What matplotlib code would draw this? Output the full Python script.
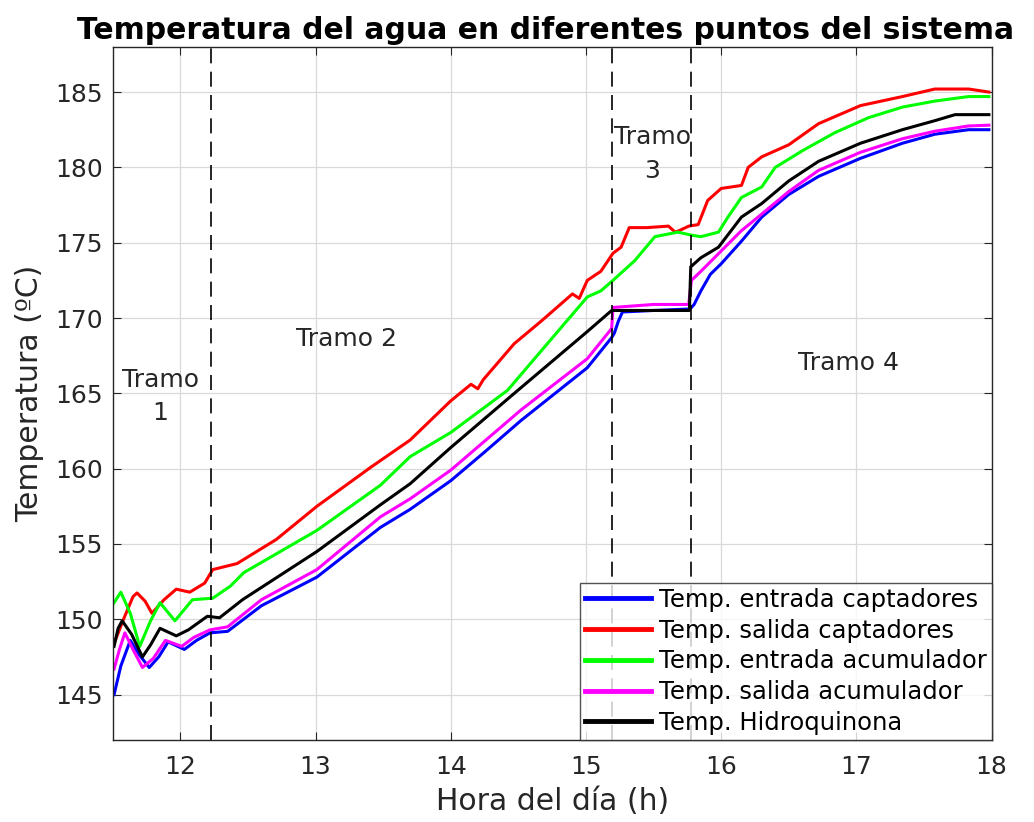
import matplotlib
matplotlib.use("Agg")
import matplotlib.pyplot as plt

# series (hour of day, temperature in ºC)
t_ent_capt = [11.51, 11.56, 11.63, 11.70, 11.77, 11.84, 11.91, 12.03, 12.12, 12.22, 12.35,
              12.60, 13.01, 13.48, 13.70, 14.00, 14.25, 14.52, 15.01, 15.19, 15.21, 15.24,
              15.27, 15.50, 15.77, 15.80, 15.85, 15.92, 16.00, 16.15, 16.30, 16.50, 16.72,
              17.03, 17.34, 17.58, 17.83, 17.98]
ent_capt = [145.0, 146.9, 148.6, 147.6, 146.8, 147.5, 148.5, 148.0, 148.6, 149.1, 149.2,
            150.9, 152.8, 156.1, 157.3, 159.2, 161.1, 163.2, 166.7, 168.7, 169.0, 169.8,
            170.4, 170.5, 170.6, 170.9, 171.8, 172.9, 173.6, 175.1, 176.7, 178.2, 179.4,
            180.6, 181.6, 182.2, 182.5, 182.5]

t_sal_capt = [11.51, 11.58, 11.65, 11.68, 11.74, 11.79, 11.88, 11.97, 12.07, 12.18, 12.24,
              12.42, 12.71, 13.01, 13.41, 13.70, 14.00, 14.15, 14.20, 14.24, 14.47, 14.67,
              14.90, 14.95, 15.01, 15.11, 15.20, 15.26, 15.32, 15.45, 15.61, 15.66, 15.69,
              15.76, 15.83, 15.90, 16.00, 16.15, 16.20, 16.30, 16.50, 16.72, 17.03, 17.34,
              17.58, 17.83, 17.98]
sal_capt = [148.4, 150.0, 151.5, 151.75, 151.2, 150.4, 151.3, 152.0, 151.8, 152.4, 153.3,
            153.7, 155.3, 157.5, 160.1, 161.9, 164.5, 165.6, 165.3, 165.9, 168.3, 169.8,
            171.6, 171.3, 172.5, 173.1, 174.3, 174.7, 176.0, 176.0, 176.1, 175.7, 175.8,
            176.1, 176.2, 177.8, 178.6, 178.8, 180.0, 180.7, 181.5, 182.9, 184.1, 184.7,
            185.2, 185.2, 185.0]

t_ent_acum = [11.51, 11.56, 11.63, 11.70, 11.78, 11.85, 11.96, 12.09, 12.24, 12.37, 12.47,
              13.01, 13.48, 13.70, 14.00, 14.42, 15.01, 15.11, 15.20, 15.36, 15.51, 15.68,
              15.78, 15.85, 15.98, 16.05, 16.15, 16.30, 16.40, 16.60, 16.84, 17.09, 17.34,
              17.58, 17.83, 17.98]
ent_acum = [151.1, 151.8, 150.4, 148.2, 149.9, 151.1, 149.9, 151.3, 151.4, 152.2, 153.1,
            155.9, 158.9, 160.8, 162.4, 165.2, 171.4, 171.8, 172.5, 173.8, 175.4, 175.7,
            175.5, 175.4, 175.7, 176.7, 178.0, 178.7, 180.0, 181.1, 182.3, 183.3, 184.0,
            184.4, 184.7, 184.7]

t_sal_acum = [11.51, 11.55, 11.59, 11.65, 11.72, 11.80, 11.89, 12.01, 12.10, 12.22, 12.35,
              12.60, 13.01, 13.48, 13.70, 14.00, 14.52, 15.01, 15.19, 15.20, 15.50, 15.76,
              15.78, 15.85, 15.95, 16.15, 16.30, 16.50, 16.72, 17.03, 17.34, 17.58, 17.83,
              17.98]
sal_acum = [146.7, 148.0, 149.1, 148.0, 146.8, 147.4, 148.6, 148.2, 148.8, 149.3, 149.5,
            151.3, 153.3, 156.8, 158.0, 159.9, 163.9, 167.3, 169.3, 170.7, 170.9, 170.9,
            172.5, 173.1, 174.0, 175.8, 176.9, 178.4, 179.8, 181.0, 181.9, 182.4, 182.75,
            182.8]

t_hidro = [11.51, 11.54, 11.57, 11.64, 11.72, 11.78, 11.85, 11.97, 12.06, 12.20, 12.29,
           12.46, 13.01, 13.48, 13.70, 14.00, 14.47, 15.01, 15.19, 15.50, 15.765, 15.775,
           15.85, 15.98, 16.15, 16.30, 16.50, 16.72, 17.03, 17.34, 17.58, 17.73, 17.98]
hidro = [148.2, 149.4, 149.9, 149.0, 147.5, 148.3, 149.4, 148.9, 149.3, 150.2, 150.1,
         151.3, 154.5, 157.6, 159.0, 161.4, 165.0, 169.1, 170.5, 170.5, 170.5, 173.4,
         174.0, 174.7, 176.7, 177.6, 179.1, 180.4, 181.6, 182.5, 183.1, 183.5, 183.5]

tramo_limits = [12.23, 15.195, 15.78]
tramo_labels = ["Tramo\n1", "Tramo 2", "Tramo\n3", "Tramo 4"]
tramo_pos = [(11.85, 164.8), (13.23, 168.6), (15.49, 180.9), (16.94, 167.0)]

fig = plt.figure(figsize=(10.34, 8.22), dpi=100)
ax = fig.add_axes([0.109, 0.100, 0.850, 0.843])

ax.plot(t_ent_capt, ent_capt, color="#0000ff", lw=2.2, label="Temp. entrada captadores")
ax.plot(t_sal_capt, sal_capt, color="#ff0000", lw=2.2, label="Temp. salida captadores")
ax.plot(t_ent_acum, ent_acum, color="#00ff00", lw=2.2, label="Temp. entrada acumulador")
ax.plot(t_sal_acum, sal_acum, color="#ff00ff", lw=2.2, label="Temp. salida acumulador")
ax.plot(t_hidro, hidro, color="#000000", lw=2.2, label="Temp. Hidroquinona")

for xv in tramo_limits:
    ax.axvline(xv, color="black", lw=1.2, ls=(0, (9, 5)))

for lab, (xp, yp) in zip(tramo_labels, tramo_pos):
    ax.text(xp, yp, lab, ha="center", va="center", fontsize=18, color="#262626",
            linespacing=1.5)

ax.set_xlim(11.5, 18)
ax.set_ylim(142, 188)
ax.set_xticks([12, 13, 14, 15, 16, 17, 18])
ax.set_yticks([145, 150, 155, 160, 165, 170, 175, 180, 185])
ax.grid(True, color="#d9d9d9", lw=0.9)
ax.tick_params(direction="in", top=True, right=True, labelsize=18, length=6,
               colors="#262626")
ax.tick_params(axis="y", pad=7)
ax.tick_params(axis="x", pad=11)
for s in ax.spines.values():
    s.set_color("#262626")
    s.set_linewidth(1.0)

ax.set_xlabel("Hora del día (h)", fontsize=21.5, color="#262626", labelpad=6)
ax.set_ylabel("Temperatura (ºC)", fontsize=21.5, color="#262626", labelpad=8)
ax.set_title("Temperatura del agua en diferentes puntos del sistema",
             fontsize=21.5, fontweight="bold", pad=6, x=0.493)

leg = ax.legend(loc="lower right", fontsize=17.5, frameon=True, fancybox=False,
                borderpad=0.2, handlelength=2.7, handletextpad=0.33,
                labelspacing=0.28, borderaxespad=0.0)
leg.get_frame().set_edgecolor("#262626")
leg.get_frame().set_linewidth(1.0)
for h in leg.get_lines():
    h.set_linewidth(3.5)

fig.savefig("out.png", dpi=100)
